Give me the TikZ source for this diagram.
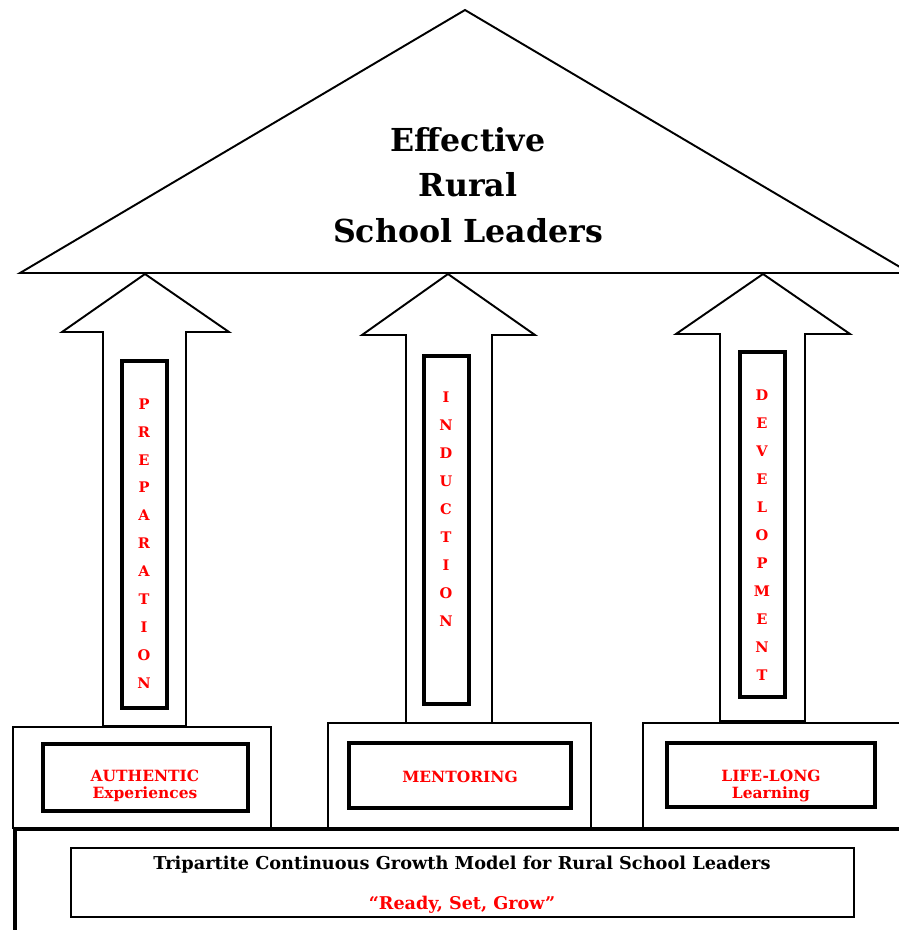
\documentclass[tikz,border=0pt]{standalone}
\usepackage{fontspec}
\setmainfont{DejaVu Serif}
\begin{document}
\begin{tikzpicture}[x=0.02cm,y=-0.02cm,
        thin line/.style={draw=black,line width=1.1pt},
        thick box/.style={draw=black,line width=2.4pt},
        letters/.style={text=red,font=\bfseries\fontsize{8.3}{15.9}\selectfont,align=center},
        label/.style={text=red,font=\bfseries\fontsize{8.8}{9.6}\selectfont,align=center}]
        \useasboundingbox (0,0) rectangle (899,930);
        \clip (0,0) rectangle (899,930);
        \fill[white] (0,0) rectangle (899,930);
        \draw[thin line] (465,10) -- (20,273) -- (910,273) -- cycle;
        \node[font=\bfseries\fontsize{18}{26}\selectfont,align=center] (roof) at (468,185)
            {Effective\\Rural\\School Leaders};
        \foreach \tip/\wl/\wr/\hy/\sl/\sr/\by in {145/62/229/332/103/186/726,
                448/362/535/335/406/492/723, 763/676/850/334/720/805/721}
            \draw[thin line] (\tip,274) -- (\wr,\hy) -- (\sr,\hy) -- (\sr,\by)
                -- (\sl,\by) -- (\sl,\hy) -- (\wl,\hy) -- cycle;
        \draw[thick box] (122,361) rectangle (167,708);
        \draw[thick box] (424,356) rectangle (469,704);
        \draw[thick box] (740,352) rectangle (785,697);
        \node[letters] (prep) at (144,543.5) {P\\R\\E\\P\\A\\R\\A\\T\\I\\O\\N};
        \node[letters] (ind) at (446,509) {I\\N\\D\\U\\C\\T\\I\\O\\N};
        \node[letters] (dev) at (762,535) {D\\E\\V\\E\\L\\O\\P\\M\\E\\N\\T};
        \draw[thin line] (13,829) -- (13,727) -- (271,727) -- (271,829);
        \draw[thin line] (328,829) -- (328,723) -- (591,723) -- (591,829);
        \draw[thin line] (643,829) -- (643,723) -- (910,723);
        \draw[thick box] (43,744) rectangle (248,811);
        \draw[thick box] (349,743) rectangle (571,808);
        \draw[thick box] (667,743) rectangle (875,807);
        \node[label] (auth) at (145,786) {AUTHENTIC\\Experiences};
        \node[label] (ment) at (460,777) {MENTORING};
        \node[label] (life) at (771,786) {LIFE-LONG\\Learning};
        \draw[thick box] (15,829) rectangle (910,945);
        \draw[line width=0.9pt] (71,848) rectangle (854,917);
        \node[font=\bfseries\fontsize{10.1}{12}\selectfont] (model) at (462,865)
            {Tripartite Continuous Growth Model for Rural School Leaders};
        \node[text=red,font=\bfseries\fontsize{10}{12}\selectfont] (motto) at (462,905)
            {“Ready, Set, Grow”};
\end{tikzpicture}
\end{document}
